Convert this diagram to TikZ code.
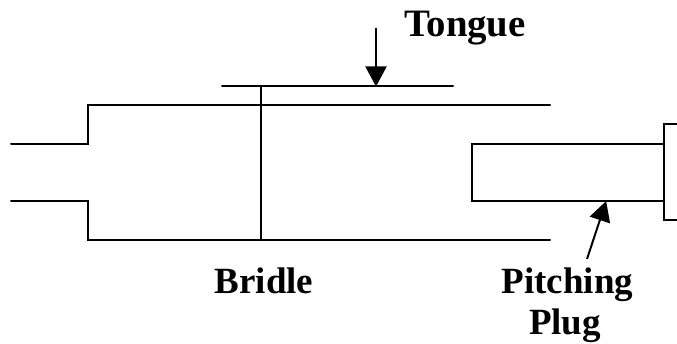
\documentclass[tikz,border=0pt]{standalone}
\usepackage{fontspec}
\setmainfont{Liberation Serif}
\usetikzlibrary{arrows.meta}
\tikzset{
  wire/.style={draw=black,line width=2pt,line cap=round,line join=miter},
  pointer/.style={draw=black,line width=2pt,-{Triangle[length=20pt,width=21pt]},shorten >=-0.5pt},
  lbl/.style={inner sep=0pt,font=\fontsize{37}{41}\selectfont\bfseries,text=black,align=center}
}
\begin{document}
\begin{tikzpicture}[x=1pt,y=-1pt]
\useasboundingbox[fill=white] (0,0) rectangle (677,344);
% body of the bridle
\draw[wire] (11,144) -- (88,144) -- (88,105) -- (550,105);
\draw[wire] (11,201) -- (88,201) -- (88,240) -- (550,240);
% tongue and bridle bar
\coordinate (tl) at (222,86);
\coordinate (tr) at (453,86);
\coordinate (tm) at (376,86);
\coordinate (bt) at (261,86);
\coordinate (bb) at (261,240);
\draw[wire] (tl) -- (tr);
\draw[wire] (bt) -- (bb);
% pitching plug
\draw[wire] (664,144) -- (472,144) -- (472,201) -- (664,201);
\draw[wire] (677,124) -- (664,124) -- (664,220.5) -- (677,220.5);
\coordinate (pp) at (606,201.5);
% labels
\node[lbl,anchor=base,font=\fontsize{38.8}{41}\selectfont\bfseries] (tongue) at (465,37) {Tongue};
\node[lbl,anchor=base] (bridle) at (264,294) {Bridle};
\node[lbl,anchor=base] (pitching) at (567.5,294) {Pitching};
\node[lbl,anchor=base] (plug) at (565,335) {Plug};
% pointers
\coordinate (ts) at (376,28);
\coordinate (ps) at (587,259);
\draw[pointer] (ts) -- (tm);
\draw[pointer] (ps) -- (pp);
\end{tikzpicture}
\end{document}
